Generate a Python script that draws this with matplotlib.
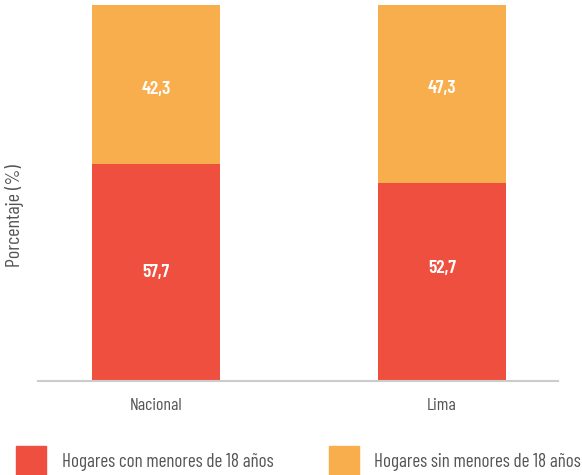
import matplotlib
matplotlib.use("Agg")
import matplotlib.pyplot as plt
from matplotlib.patches import Rectangle
from matplotlib import font_manager

categories = ["Nacional", "Lima"]
con_menores = [57.7, 52.7]
sin_menores = [42.3, 47.3]
series_names = ["Hogares con menores de 18 años", "Hogares sin menores de 18 años"]
colors = ["#EF4F3E", "#F9AE4E"]

# label anchor heights (axis units), as placed in the reference
label_y_bottom = [28.9, 30.0]
label_y_top = [77.5, 77.9]

names = {f.name for f in font_manager.fontManager.ttflist}
fam = "DejaVu Sans"
for cand in ["Barlow Condensed", "Roboto Condensed", "Barlow Semi Condensed", "Liberation Sans Narrow"]:
    if cand in names:
        fam = cand
        break
plt.rcParams["font.family"] = [fam, "DejaVu Sans"]

W, H = 582, 475
fig = plt.figure(figsize=(W / 100, H / 100), dpi=100)
ax = fig.add_axes([38 / W, 94 / H, (558 - 38) / W, (470 - 94) / H])

x = list(range(len(categories)))
width = 0.448
ax.bar(x, con_menores, width, color=colors[0])
ax.bar(x, sin_menores, width, bottom=con_menores, color=colors[1])

def fmt(v):
    return f"{v:.1f}".replace(".", ",")

for i in x:
    ax.text(i, label_y_bottom[i], fmt(con_menores[i]), ha="center", va="center",
            color="white", fontsize=14, fontweight=600)
    ax.text(i, label_y_top[i], fmt(sin_menores[i]), ha="center",
            va="center", color="white", fontsize=14, fontweight=600)

ax.set_xlim(-0.413, 1.406)
ax.set_ylim(0, 100)
ax.set_xticks(x)
ax.set_xticklabels(categories, fontsize=12.8, color="#555555")
ax.tick_params(axis="x", length=0, pad=12)
ax.set_yticks([])
for s in ["top", "right", "left"]:
    ax.spines[s].set_visible(False)
ax.spines["bottom"].set_color("#cccccc")
ax.spines["bottom"].set_linewidth(1.5)
ax.set_ylabel("Porcentaje (%)", fontsize=14.5, color="#555555")
ax.yaxis.set_label_coords(-14 / (558 - 38), 0.441)

# legend
for (lx, tx), name, c in zip([(16, 62), (329, 374)], series_names, colors):
    fig.patches.append(Rectangle((lx / W, 0), 30 / W, 29 / H, transform=fig.transFigure,
                                 color=c, figure=fig))
    fig.text(tx / W, (H - 462) / H, name, ha="left", va="center", fontsize=13.7,
             color="#555555")

fig.savefig("out.png", dpi=100)
